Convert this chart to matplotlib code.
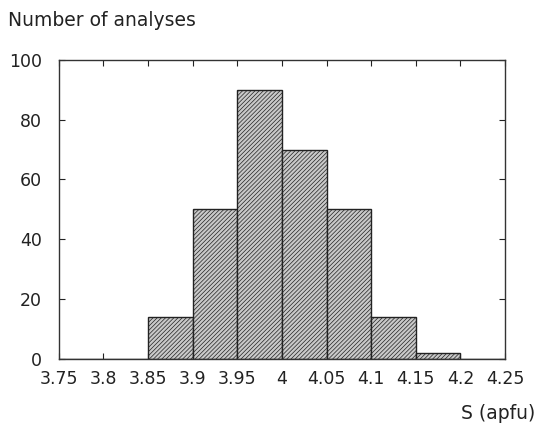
import matplotlib
matplotlib.use("Agg")
import matplotlib.pyplot as plt
import numpy as np

# histogram of S (apfu)
bin_edges = [3.75, 3.8, 3.85, 3.9, 3.95, 4.0, 4.05, 4.1, 4.15, 4.2, 4.25]
counts = [0, 0, 14, 50, 90, 70, 50, 14, 2, 0]
xtick_vals = [3.75, 3.8, 3.85, 3.9, 3.95, 4.0, 4.05, 4.1, 4.15, 4.2, 4.25]
xtick_labels = ["3.75", "3.8", "3.85", "3.9", "3.95", "4", "4.05", "4.1", "4.15", "4.2", "4.25"]
ytick_vals = [0, 20, 40, 60, 80, 100]

plt.rcParams["font.family"] = ["DejaVu Sans"]
plt.rcParams["hatch.color"] = "#6a6a6a"
plt.rcParams["hatch.linewidth"] = 0.5

fig = plt.figure(figsize=(5.39, 4.28), dpi=100)
ax = fig.add_axes([0.109, 0.162, 0.828, 0.698])

left = np.array(bin_edges[:-1])
widths = np.diff(bin_edges)
ax.bar(left, counts, width=widths, align="edge", facecolor="#c9c9c9",
       edgecolor="#222222", linewidth=1.0, hatch="////////")

ax.set_xlim(3.75, 4.25)
ax.set_ylim(0, 100)
ax.set_xticks(xtick_vals)
ax.set_xticklabels(xtick_labels)
ax.set_yticks(ytick_vals)
ax.tick_params(direction="in", top=True, right=True, length=4, width=0.8,
               labelsize=12.5, colors="#222222")
ax.tick_params(axis="x", pad=8)
ax.tick_params(axis="y", pad=12)
for s in ax.spines.values():
    s.set_linewidth(1.0)
    s.set_color("#333333")

fig.text(0.015, 0.953, "Number of analyses", fontsize=13.5, ha="left", va="center",
         color="#222222")
fig.text(0.993, 0.035, "S (apfu)", fontsize=13.5, ha="right", va="center",
         color="#222222")

fig.savefig("out.png", dpi=100)
